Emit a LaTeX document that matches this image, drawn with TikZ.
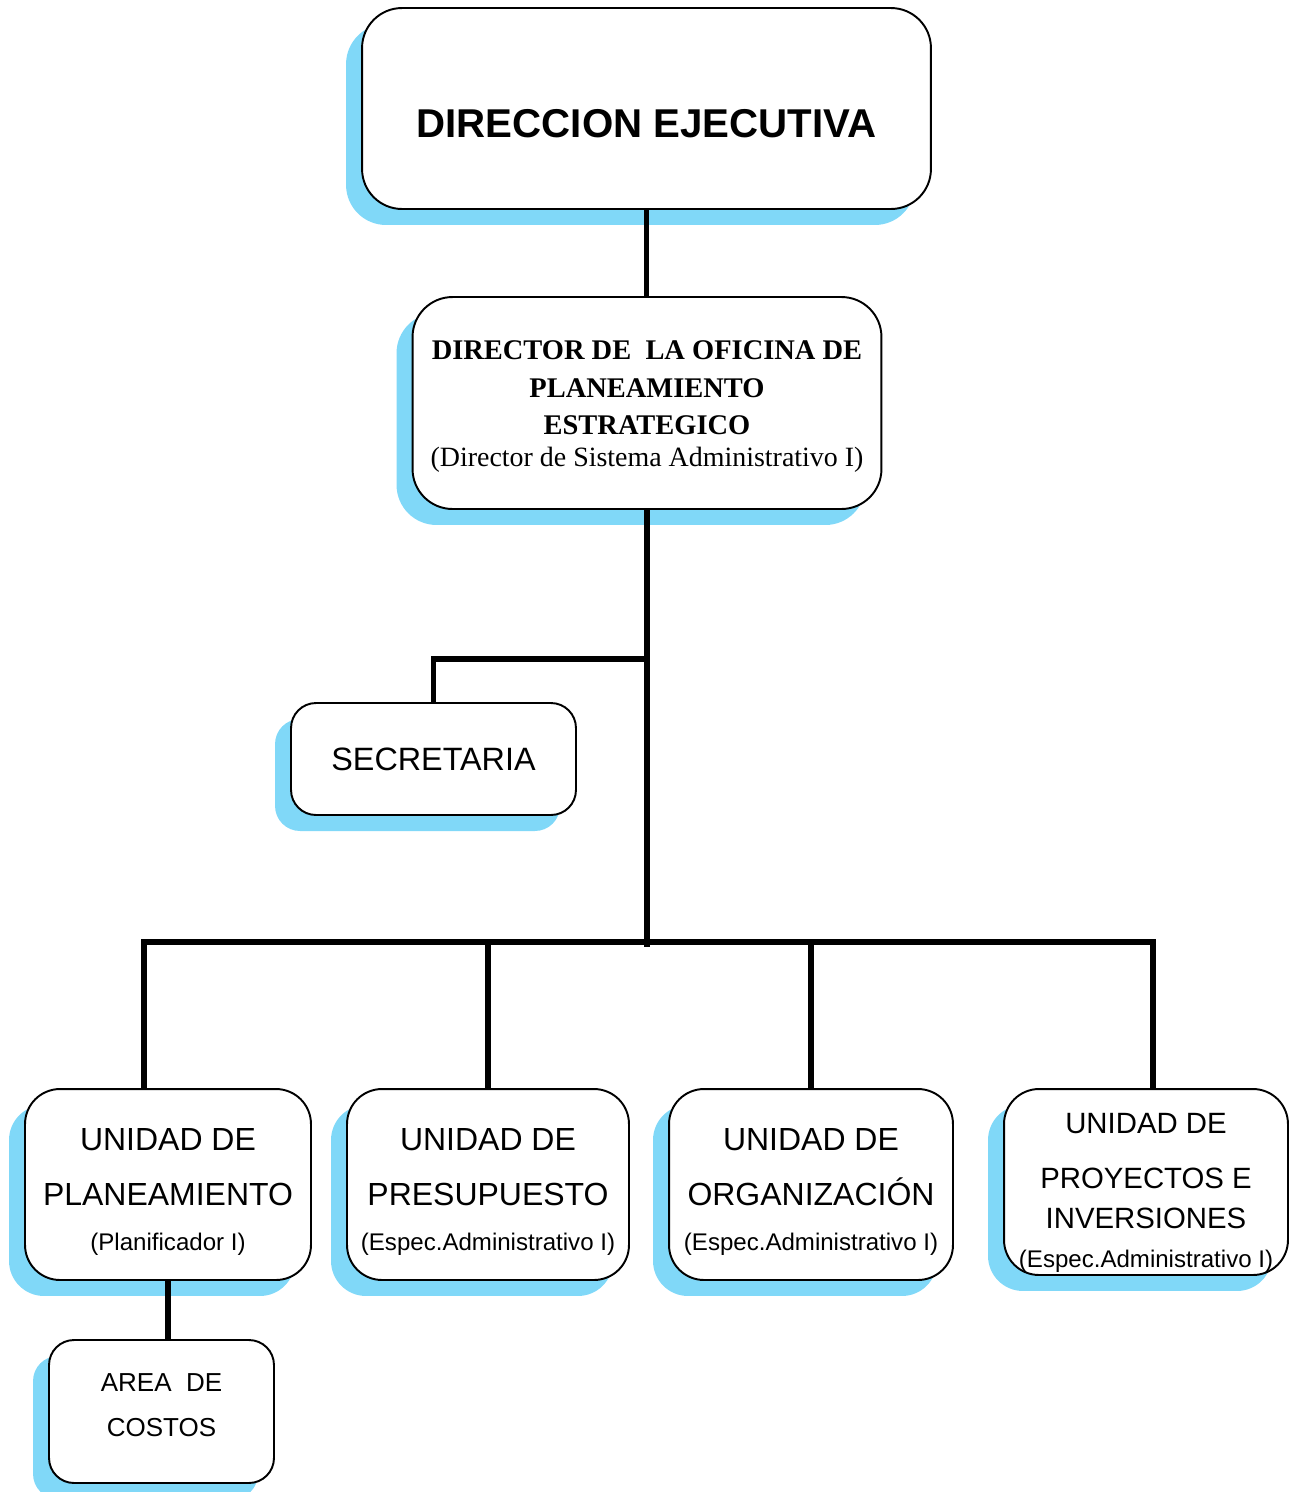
\documentclass[tikz,border=0pt]{standalone}
\usepackage{fontspec}
\setmainfont{Liberation Sans}
\newfontfamily\serifcaja{Liberation Serif}
\usetikzlibrary{shadows}
\usetikzlibrary{calc}

\definecolor{celeste}{RGB}{128,216,248}
\newcommand{\arriba}[1]{\rule{0pt}{#1}}
\newcommand{\abajo}[1]{\rule[-#1]{0pt}{#1}}

\tikzset{
	caja/.style={draw,line width=1.1pt,fill=white,rounded corners=#1,align=center,inner sep=0pt,
		drop shadow={shadow xshift=-0.32cm,shadow yshift=-0.32cm,fill=celeste,opacity=1}},
	caja/.default=0.7cm,
	unidad/.style={caja,minimum height=3.82cm,font=\fontsize{18.2}{31.2}\selectfont},
	enlace/.style={line width=3pt},
}

\begin{document}
\begin{tikzpicture}[x=0.02cm,y=-0.02cm]
		\useasboundingbox (0,0) rectangle (1299,1492);
		% cajas
		\node[caja=0.8cm,minimum width=11.38cm,minimum height=4.02cm,text height=33.4pt,text depth=0pt,font=\fontsize{22.9}{26}\selectfont\bfseries] (dir) at (646.5,108.5) {DIRECCION EJECUTIVA};
		\node[caja=0.8cm,minimum width=9.38cm,minimum height=4.24cm,font=\serifcaja\fontsize{16.2}{21.3}\selectfont] (ops) at (647,403) {\arriba{15.3pt}\textbf{DIRECTOR DE\ \ LA OFICINA DE}\\\textbf{PLANEAMIENTO}\\\textbf{ESTRATEGICO}\\[-3pt]{\fontsize{15.9}{21.3}\selectfont(Director de Sistema Administrativo I)}};
		\node[caja=0.5cm,minimum width=5.70cm,minimum height=2.24cm,font=\fontsize{18.4}{21}\selectfont] (sec) at (433.5,759) {SECRETARIA};
		\node[unidad,minimum width=5.72cm] (plan) at (168,1184.5) {\arriba{21pt}UNIDAD DE\\PLANEAMIENTO\\[-5.2pt]{\fontsize{13.7}{31.2}\selectfont(Planificador I)}};
		\node[unidad,minimum width=5.64cm] (pres) at (488,1184.5) {\arriba{21pt}UNIDAD DE\\PRESUPUESTO\\[-5.2pt]{\fontsize{13.7}{31.2}\selectfont(Espec.Administrativo I)}};
		\node[unidad,minimum width=5.68cm] (org) at (811,1184.5) {\arriba{21pt}UNIDAD DE\\ORGANIZACIÓN\\[-5.2pt]{\fontsize{13.7}{31.2}\selectfont(Espec.Administrativo I)}};
		\node[unidad,minimum width=5.68cm,minimum height=3.72cm,font=\fontsize{16.7}{31.2}\selectfont] (proy) at (1146,1182) {\arriba{24pt}UNIDAD DE\\PROYECTOS E\\[-8.5pt]INVERSIONES\\[-9pt]{\fontsize{13.7}{31.2}\selectfont(Espec.Administrativo I)}};
		\node[caja=0.5cm,minimum width=4.50cm,minimum height=2.86cm,font=\fontsize{14.8}{25.5}\selectfont] (cost) at (161.5,1411.5) {AREA\ \ DE\\COSTOS\abajo{7pt}};
		% lineas
		\coordinate (tronco) at (647,942);
		\coordinate (ramal) at (647,659);
		\draw[enlace] (dir.south) -- (dir.south |- ops.north);
		\draw[enlace] (ops.south) -- ([yshift=-0.1cm]tronco);
		\draw[enlace] (sec.north) |- (ramal);
		\draw[enlace] ([xshift=-0.48cm]plan.north) |- (tronco) -| ([xshift=0.14cm]proy.north);
		\draw[enlace] (pres.north) -- (pres.north |- tronco);
		\draw[enlace] (org.north) -- (org.north |- tronco);
		\draw[enlace] (plan.south) -- (plan.south |- cost.north);
	\end{tikzpicture}
\end{document}
